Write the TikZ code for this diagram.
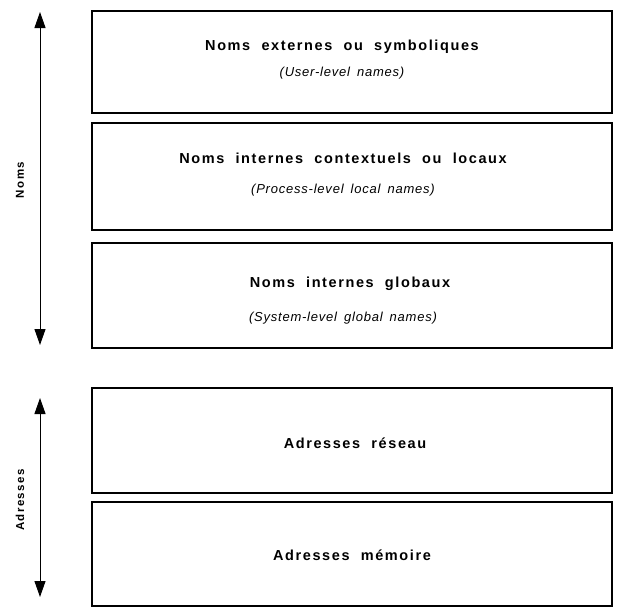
\documentclass[tikz,border=0pt]{standalone}
\usepackage{fontspec}
\setmainfont{Liberation Sans}
\newfontfamily\titlefont[LetterSpace=11,WordSpace=2.0]{Liberation Sans Bold}
\newfontfamily\sidefont[LetterSpace=12,WordSpace=2.0]{Liberation Sans Bold}
\newfontfamily\subfont[LetterSpace=6,WordSpace=1.6]{Liberation Sans Italic}
\usetikzlibrary{arrows.meta}
\begin{document}
\begin{tikzpicture}[x=1pt,y=-1pt,
  box/.style={draw,line width=1.3pt,inner sep=0pt,minimum width=520pt},
  ttl/.style={inner sep=0pt,font=\titlefont\fontsize{14.5}{16}\selectfont},
  sub/.style={inner sep=0pt,font=\subfont\fontsize{13}{15}\selectfont},
  side/.style={inner sep=0pt,rotate=90,font=\sidefont\fontsize{11.5}{13}\selectfont},
  axis/.style={line width=1pt,{Triangle[width=11pt,length=16pt]}-{Triangle[width=11pt,length=16pt]}}]
\useasboundingbox (0,0) rectangle (624,608);
\node[box,minimum height=102pt] (b1) at (352,62) {};
\node[box,minimum height=107pt] (b2) at (352,176.5) {};
\node[box,minimum height=105pt] (b3) at (352,295.5) {};
\node[box,minimum height=105pt] (b4) at (352,440.5) {};
\node[box,minimum height=104pt] (b5) at (352,554) {};
\node[ttl] (t1) at (342,47) {Noms externes ou symboliques};
\node[sub] (s1) at (342,73) {(User-level names)};
\node[ttl] (t2) at (343,158) {Noms internes contextuels ou locaux};
\node[sub] (s2) at (343,190) {(Process-level local names)};
\node[ttl] (t3) at (350,284) {Noms internes globaux};
\node[sub] (s3) at (343,318) {(System-level global names)};
\node[ttl] (t4) at (355,443) {Adresses réseau};
\node[ttl] (t5) at (352,555) {Adresses mémoire};
\node[side] (lnoms) at (20,180) {Noms};
\node[side] (ladr) at (20,500) {Adresses};
\coordinate (n1) at (40,12);
\coordinate (n2) at (40,345);
\coordinate (a1) at (40,398);
\coordinate (a2) at (40,597);
\draw[axis] (n1) -- (n2);
\draw[axis] (a1) -- (a2);
\end{tikzpicture}
\end{document}
